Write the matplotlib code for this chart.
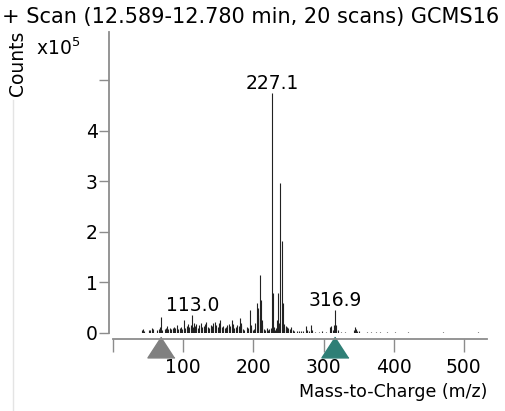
import matplotlib
matplotlib.use('Agg')
import matplotlib.pyplot as plt
from matplotlib.lines import Line2D
from matplotlib.transforms import blended_transform_factory

# peak list: m/z and counts (x10^5)
mz = [41, 43, 44, 51, 53, 55, 57, 63, 65, 67, 69, 70, 74, 75, 77, 79, 81, 83,
      86, 87, 89, 91, 93, 95, 97, 99, 101, 103, 105,
      107, 109, 111, 113.0, 114, 115, 117, 119, 121, 123, 125, 127, 129, 131,
      133, 135, 137, 139, 141, 143, 145, 147, 149, 151, 152, 155, 157, 159,
      161, 163, 165, 167, 169, 171, 173, 175, 177, 179, 181, 182, 183, 185,
      187, 191, 193, 195, 196, 197, 199,
      201, 203, 205, 206, 207, 209, 210, 211, 212, 213, 215, 217, 219, 221,
      223, 225, 226, 227.1, 228, 229, 231, 233, 234, 235, 236, 238, 240.5,
      242, 243, 244, 246, 248, 250, 252, 254, 256, 258,
      262, 265, 268, 271, 275, 277, 280, 282, 284, 288, 293, 298, 303, 309,
      311, 313, 315, 316.9, 318, 320, 325, 330, 343, 345, 346, 348, 350,
      362, 368, 375, 381, 390, 402, 420, 445, 470, 505, 520]
counts = [0.05, 0.08, 0.04, 0.06, 0.05, 0.10, 0.07, 0.05, 0.08, 0.12, 0.32, 0.06,
          0.08, 0.10, 0.14, 0.08, 0.10, 0.07,
          0.09, 0.12, 0.10, 0.16, 0.08, 0.09, 0.12, 0.07, 0.26, 0.10, 0.14,
          0.18, 0.12, 0.16, 0.36, 0.12, 0.20, 0.14, 0.18, 0.10, 0.15, 0.20, 0.12,
          0.14, 0.18, 0.22, 0.12, 0.10, 0.16, 0.14, 0.20, 0.22, 0.15, 0.12, 0.20,
          0.26, 0.12, 0.14, 0.10, 0.12, 0.15, 0.18, 0.14, 0.25, 0.18, 0.10, 0.12,
          0.16, 0.14, 0.30, 0.20, 0.16, 0.08, 0.06, 0.12, 0.10, 0.45, 0.16, 0.10,
          0.06,
          0.08, 0.20, 0.60, 0.30, 0.50, 1.15, 0.35, 0.66, 0.25, 0.15, 0.08, 0.05,
          0.10, 0.06, 0.08, 0.10, 0.12, 4.75, 0.80, 0.12, 0.05, 0.10, 0.25, 0.80,
          0.20, 2.97, 1.82, 0.60, 0.18, 0.10, 0.14, 0.12, 0.10, 0.08, 0.12, 0.05,
          0.04,
          0.03, 0.03, 0.04, 0.03, 0.14, 0.06, 0.04, 0.15, 0.05, 0.02, 0.02, 0.03,
          0.02, 0.12, 0.14, 0.06, 0.16, 0.45, 0.15, 0.05, 0.02, 0.02, 0.05, 0.12,
          0.08, 0.04, 0.03,
          0.015, 0.02, 0.015, 0.02, 0.01, 0.01, 0.01, 0.008, 0.01, 0.008, 0.01]

labeled = [113.0, 227.1, 316.9]
markers_mz = [68, 317]
marker_colors = ['#808080', '#2f7f76']

xticks = [0, 100, 200, 300, 400, 500]
xticklabels = ['', '100', '200', '300', '400', '500']
yticks = [0, 1, 2, 3, 4, 5]
yticklabels = ['0', '1', '2', '3', '4', '']

fs = 13.5
axcol = '#8c8c8c'

fig = plt.figure(figsize=(5.06, 4.11), dpi=100)
ax = fig.add_axes([0.2233, 0.1898, 0.7392, 0.7324])

ax.vlines(mz, 0, counts, color='#222222', lw=0.8)

for m in labeled:
    c = counts[mz.index(m)]
    ax.annotate('%.1f' % m, (m, c), xytext=(0, 0), textcoords='offset points',
                ha='center', va='bottom', fontsize=fs)

ax.set_xlim(0, 533)
ax.set_ylim(0, 5.95)

for s in ['top', 'right']:
    ax.spines[s].set_visible(False)
ax.spines['left'].set_position(('outward', 3))
ax.spines['bottom'].set_position(('outward', 4))
for s in ['left', 'bottom']:
    ax.spines[s].set_color(axcol)
    ax.spines[s].set_linewidth(1.3)

ax.set_xticks(xticks)
ax.set_xticklabels(xticklabels)
ax.set_yticks(yticks)
ax.set_yticklabels(yticklabels)
ax.tick_params(axis='x', direction='out', length=9, width=1, color=axcol,
               pad=5, labelsize=fs)
ax.tick_params(axis='y', direction='out', length=7, width=1, color=axcol,
               pad=1, labelsize=fs)

# range markers under the axis
tr = blended_transform_factory(ax.transData, ax.transAxes)
tri = [(0, 1), (-1.3, -1), (1.3, -1)]
for m, col in zip(markers_mz, marker_colors):
    ax.plot([m], [-0.048], marker=tri, markersize=19.5, color=col,
            markeredgecolor=col, transform=tr, clip_on=False, linestyle='none')

fig.text(0.004, 1 - 17 / 411, '+ Scan (12.589-12.780 min, 20 scans) GCMS16',
         ha='left', va='center', fontsize=15)
fig.text(0.034, 1 - 63 / 411, 'Counts', rotation=90, ha='center', va='center',
         fontsize=fs)
fig.text(0.071, 1 - 48 / 411, 'x10$^5$', ha='left', va='center', fontsize=fs)
fig.text(0.9625, 1 - 392 / 411, 'Mass-to-Charge (m/z)', ha='right',
         va='center', fontsize=12.5)

fig.add_artist(Line2D([0.025, 0.025], [0, 1 - 100 / 411], color='#e4e4e4',
                      lw=1, transform=fig.transFigure))

fig.savefig('out.png', dpi=100)
